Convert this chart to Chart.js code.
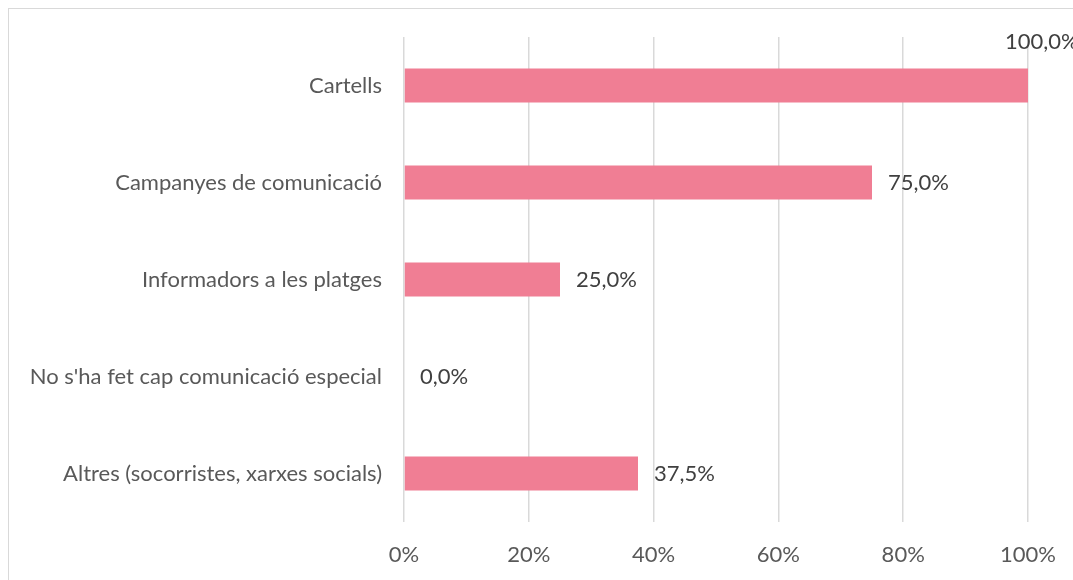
<!DOCTYPE html>
<html>
<head>
<meta charset="utf-8">
<script src="https://cdn.jsdelivr.net/npm/chart.js@4"></script>
<style>
    body { margin: 0; background: #fff; }
    #wrap { position: relative; width: 1073px; height: 580px; overflow: hidden; }
    #frame { position: absolute; left: 8px; top: 8px; width: 1200px; height: 700px; border: 1px solid #d9d9d9; }
    canvas { position: absolute; left: 0; top: 0; }
</style>
</head>
<body>
<div id="wrap">
    <div id="frame"></div>
    <canvas id="myChart" width="1073" height="580"></canvas>
</div>
<script>
// Dades del gràfic
const categories = [
    "Cartells",
    "Campanyes de comunicació",
    "Informadors a les platges",
    "No s'ha fet cap comunicació especial",
    "Altres (socorristes, xarxes socials)"
];
const values = [100, 75, 25, 0, 37.5];
const tickValues = [0, 20, 40, 60, 80, 100];

const FONT = "Lato, 'Liberation Sans', sans-serif";

// Etiquetes de valor al final de cada barra
const valueLabels = {
    id: "valueLabels",
    afterDatasetsDraw(chart) {
        const ctx = chart.ctx;
        const meta = chart.getDatasetMeta(0);
        ctx.save();
        ctx.font = "22px " + FONT;
        ctx.fillStyle = "#404040";
        ctx.textBaseline = "middle";
        ctx.textAlign = "left";
        meta.data.forEach((bar, i) => {
            const txt = values[i].toFixed(1).replace(".", ",") + "%";
            const w = ctx.measureText(txt).width;
            let x = bar.x + 16;
            let y = bar.y;
            if (x + w > chart.width) {
                // no hi cap: es posa a sobre de la barra
                x = bar.x - 23;
                y = bar.y - 44;
            }
            ctx.fillText(txt, x, y);
        });
        ctx.restore();
    }
};

new Chart(document.getElementById("myChart"), {
    type: "bar",
    data: {
        labels: categories,
        datasets: [{
            data: values,
            backgroundColor: "#F07E94",
            barPercentage: 0.35,
            categoryPercentage: 1
        }]
    },
    options: {
        indexAxis: "y",
        responsive: false,
        animation: false,
        layout: { padding: { top: 37, right: 45, left: 0, bottom: 0 } },
        plugins: { legend: { display: false }, tooltip: { enabled: false } },
        scales: {
            x: {
                min: 0,
                max: 100,
                afterBuildTicks(scale) {
                    scale.ticks = tickValues.map(v => ({ value: v }));
                },
                afterFit(scale) {
                    scale.height = 58;
                    scale.paddingLeft = 0;
                    scale.paddingRight = 0;
                },
                grid: { color: "#d9d9d9", lineWidth: 1.5, drawTicks: false },
                border: { display: false },
                ticks: {
                    padding: 20,
                    color: "#595959",
                    font: { family: FONT, size: 22 },
                    callback: v => v + "%"
                }
            },
            y: {
                afterFit(scale) { scale.width = 404; },
                grid: { display: false, drawTicks: false },
                border: { display: false },
                ticks: {
                    padding: 22,
                    color: "#595959",
                    font: { family: FONT, size: 22 }
                }
            }
        }
    },
    plugins: [valueLabels]
});
</script>
</body>
</html>
